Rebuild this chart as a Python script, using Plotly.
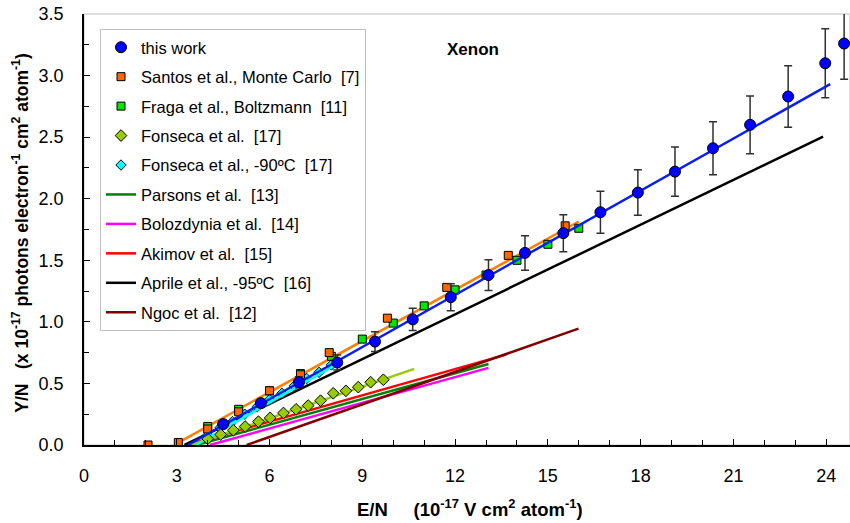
import plotly.graph_objects as go

# ---- data ----
this_work_x = [4.50, 5.72, 6.95, 8.19, 9.41, 10.63, 11.86, 13.08, 14.26, 15.50, 16.70, 17.91, 19.11, 20.34, 21.54, 22.77, 23.97, 24.58]
this_work_y = [0.17, 0.34, 0.51, 0.67, 0.84, 1.02, 1.20, 1.38, 1.56, 1.72, 1.89, 2.05, 2.22, 2.41, 2.60, 2.83, 3.10, 3.26]
this_work_err = [0.02, 0.03, 0.045, 0.06, 0.08, 0.09, 0.11, 0.125, 0.14, 0.15, 0.17, 0.185, 0.20, 0.215, 0.235, 0.25, 0.28, 0.29]

santos_x = [2.07, 3.05, 4.0, 5.0, 6.0, 7.0, 7.93, 9.81, 11.73, 13.72, 15.56]
santos_y = [0.0, 0.02, 0.13, 0.27, 0.44, 0.57, 0.75, 1.03, 1.28, 1.54, 1.78]

fraga_x = [4, 5, 6, 7, 8, 9, 10, 11, 12, 13, 14, 15, 16]
fraga_y = [0.15, 0.29, 0.44, 0.58, 0.72, 0.86, 0.99, 1.13, 1.26, 1.38, 1.50, 1.63, 1.76]

fonseca_x = [4.0, 4.42, 4.83, 5.21, 5.64, 6.02, 6.45, 6.86, 7.25, 7.65, 8.06, 8.47, 8.87, 9.27, 9.68]
fonseca_y = [0.05, 0.085, 0.12, 0.15, 0.19, 0.22, 0.26, 0.29, 0.32, 0.36, 0.42, 0.44, 0.47, 0.51, 0.53]

fonseca90_x = [4.0, 4.4, 4.8, 5.2, 5.6, 6.0, 6.4, 6.8, 7.2, 7.6, 8.0]
fonseca90_y = [0.08, 0.14, 0.19, 0.25, 0.31, 0.37, 0.42, 0.48, 0.54, 0.59, 0.65]

# fitted / literature lines (end points)
fit_this_x, fit_this_y = [3.36, 24.13], [0.0, 2.93]
fit_santos_x, fit_santos_y = [3.05, 16.0], [0.02, 1.815]
fit_fonseca_x, fit_fonseca_y = [3.48, 10.68], [0.0, 0.618]
fit_fonseca90_x, fit_fonseca90_y = [3.62, 8.06], [0.0, 0.64]
parsons_x, parsons_y = [3.64, 13.08], [0.0, 0.658]
bolozdynia_x, bolozdynia_y = [4.07, 13.08], [0.0, 0.626]
akimov_x, akimov_y = [3.32, 13.65], [0.0, 0.734]
aprile_x, aprile_y = [3.25, 23.9], [0.0, 2.505]
ngoc_x, ngoc_y = [5.26, 15.99], [0.0, 0.945]

x_ticks = [0, 3, 6, 9, 12, 15, 18, 21, 24]
y_ticks = [0.0, 0.5, 1.0, 1.5, 2.0, 2.5, 3.0, 3.5]

FONT = "Arial, Liberation Sans, sans-serif"
LW = 2.5

W, H = 850, 523
PL, PT, PW, PH = 84, 14, 766, 431.5  # plot area in page pixels


def px(xp):
    return (xp - PL) / PW


def py(yp):
    return (PT + PH - yp) / PH


fig = go.Figure()


def line(x, y, color, name=None, rank=None):
    fig.add_trace(go.Scatter(
        x=x, y=y, mode="lines", line=dict(color=color, width=LW),
        name=name or "", showlegend=name is not None,
        legendgroup=name or None, legendrank=rank or 1000, hoverinfo="skip"))


# literature lines
line(parsons_x, parsons_y, "#008000", "Parsons et al.  [13]", 6)
line(bolozdynia_x, bolozdynia_y, "#FF00FF", "Bolozdynia et al.  [14]", 7)
line(akimov_x, akimov_y, "#FF0000", "Akimov et al.  [15]", 8)
line(ngoc_x, ngoc_y, "#800000", "Ngoc et al.  [12]", 10)
line(aprile_x, aprile_y, "#000000", "Aprile et al., -95ºC  [16]", 9)
line(fit_fonseca_x, fit_fonseca_y, "#99CC00")
line(fit_santos_x, fit_santos_y, "#FF7F00")


def markers(x, y, symbol, color, size, name, rank):
    fig.add_trace(go.Scatter(
        x=x, y=y, mode="markers", name=name, legendgroup=name, legendrank=rank,
        marker=dict(symbol=symbol, color=color, size=size, line=dict(color="black", width=1))))


markers(fonseca90_x, fonseca90_y, "diamond", "#00FFFF", 8, "Fonseca et al., -90ºC  [17]", 5)
line(fit_fonseca90_x, fit_fonseca90_y, "#00FFFF")
markers(fonseca_x, fonseca_y, "diamond", "#99CC00", 9, "Fonseca et al.  [17]", 4)
markers(fraga_x, fraga_y, "square", "#00E600", 8, "Fraga et al., Boltzmann  [11]", 3)
markers(santos_x, santos_y, "square", "#FF6600", 8, "Santos et al., Monte Carlo  [7]", 2)

line(fit_this_x, fit_this_y, "#0A1EF0")

fig.add_trace(go.Scatter(
    x=this_work_x, y=this_work_y, mode="markers", name="this work",
    legendgroup="this work", legendrank=1, cliponaxis=False,
    error_y=dict(type="data", array=this_work_err, color="#303030", thickness=1.5, width=4),
    marker=dict(symbol="circle", color="#0000FF", size=11, line=dict(color="black", width=1))))

fig.add_shape(type="rect", xref="paper", yref="paper", x0=0, x1=1, y0=0, y1=1,
              line=dict(color="#BFBFBF", width=1), layer="below")

fig.add_annotation(text="<b>Xenon</b>", xref="paper", yref="paper",
                   x=px(473), y=py(50), xanchor="center", yanchor="middle", showarrow=False,
                   font=dict(family=FONT, size=17, color="black"))
fig.add_annotation(
    text="<b>Y/N   (x 10<sup>-17</sup> photons electron<sup>-1</sup> cm<sup>2</sup> atom<sup>-1</sup>)</b>",
    xref="paper", yref="paper", x=px(20), y=py(233), xanchor="center", yanchor="middle",
    textangle=-90, showarrow=False, font=dict(family=FONT, size=17.5, color="black"))
fig.add_annotation(
    text="<b>E/N     (10<sup>-17</sup> V cm<sup>2</sup> atom<sup>-1</sup>)</b>",
    xref="paper", yref="paper", x=px(470), y=py(509), xanchor="center", yanchor="middle",
    showarrow=False, font=dict(family=FONT, size=18.5, color="black"))

fig.update_layout(
    width=W, height=H,
    margin=dict(l=PL, r=W - PL - PW, t=PT, b=H - PT - PH, autoexpand=False),
    paper_bgcolor="white", plot_bgcolor="white",
    font=dict(family=FONT, color="black"),
    xaxis=dict(range=[0, 24.77], tickvals=x_ticks, ticks="inside", ticklen=6, tickwidth=1,
               tickcolor="black", showline=True, linecolor="black", linewidth=1.5,
               showgrid=False, zeroline=False, tickfont=dict(size=18, family=FONT),
               minor=dict(dtick=1, tick0=0, ticks="inside", ticklen=5, tickcolor="black", showgrid=False),
               ticklabelstandoff=14),
    yaxis=dict(range=[0, 3.5], tickvals=y_ticks, tickformat=".1f", ticks="inside", ticklen=6,
               tickwidth=1, tickcolor="black", showline=True, linecolor="black", linewidth=1.5,
               showgrid=False, zeroline=False, tickfont=dict(size=18, family=FONT),
               minor=dict(dtick=0.25, tick0=0, ticks="inside", ticklen=5, tickcolor="black", showgrid=False),
               ticklabelstandoff=15),
    legend=dict(x=px(100), y=py(29), xanchor="left", yanchor="top",
                bgcolor="white", bordercolor="#BFBFBF", borderwidth=1,
                font=dict(family=FONT, size=16.5, color="black"),
                traceorder="grouped", tracegroupgap=5, itemwidth=30),
    showlegend=True,
)

fig.write_html("out.html", config={"displayModeBar": False},
               post_script="document.body.style.margin='0px';document.body.style.overflow='hidden';")
